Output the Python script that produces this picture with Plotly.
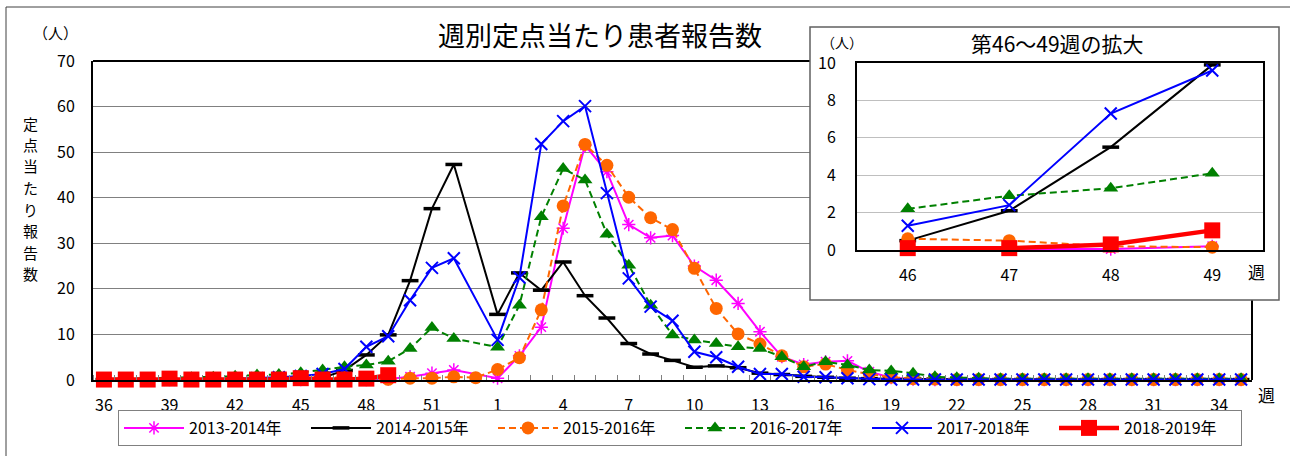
import plotly.graph_objects as go

# ---------------- data ----------------
weeks = ["36", "37", "38", "39", "40", "41", "42", "43", "44", "45",
         "46", "47", "48", "49", "50", "51", "52", "53",
         "1", "2", "3", "4", "5", "6", "7", "8", "9", "10",
         "11", "12", "13", "14", "15", "16", "17", "18", "19", "20",
         "21", "22", "23", "24", "25", "26", "27", "28", "29", "30",
         "31", "32", "33", "34", "35"]
tick_labels = ["36", "39", "42", "45", "48", "51", "1", "4", "7", "10",
               "13", "16", "19", "22", "25", "28", "31", "34"]
inset_weeks = ["46", "47", "48", "49"]
y_ticks = [0, 10, 20, 30, 40, 50, 60, 70]
inset_y_ticks = [0, 2, 4, 6, 8, 10]

s2013 = [0.1, 0.1, 0.1, 0.1, 0.1, 0.1, 0.1, 0.1, 0.1, 0.1,
         0.05, 0.05, 0.05, 0.2, 0.7, 1.5, 2.2, None,
         0.4, 5.3, 11.6, 33.3, 51.5, 45.7, 34.1, 31.2, 31.7, 25.0,
         21.9, 16.8, 10.6, 5.1, 3.4, 4.0, 4.2, 1.8, 0.5, 0.2,
         0.1, 0.1, 0.1, 0.1, 0.1, 0.1, 0.1, 0.1, 0.1, 0.1,
         0.1, 0.1, 0.1, 0.1, 0.1]
s2014 = [0.1, 0.1, 0.1, 0.1, 0.1, 0.1, 0.2, 0.2, 0.3, 0.4,
         0.5, 2.1, 5.5, 9.9, 21.8, 37.6, 47.3, None,
         14.4, 23.5, 19.7, 25.9, 18.5, 13.6, 8.0, 5.7, 4.3, 2.8,
         3.1, 2.7, 1.5, 1.2, 0.8, 0.6, 0.4, 0.3, 0.2, 0.2,
         0.2, 0.1, 0.1, 0.1, 0.1, 0.1, 0.1, 0.1, 0.1, 0.1,
         0.1, 0.1, 0.1, 0.1, 0.1]
s2015 = [0.1, 0.1, 0.1, 0.1, 0.1, 0.2, 0.2, 0.2, 0.3, 0.4,
         0.6, 0.5, 0.2, 0.15, 0.4, 0.4, 0.7, 0.5,
         2.3, 4.9, 15.4, 38.2, 51.7, 47.1, 40.1, 35.6, 33.0, 24.5,
         15.7, 10.1, 7.9, 5.3, 2.9, 3.5, 2.2, 1.3, 0.6, 0.3,
         0.2, 0.1, 0.1, 0.1, 0.1, 0.1, 0.1, 0.1, 0.1, 0.1,
         0.1, 0.1, 0.1, 0.1, 0.1]
s2016 = [0.2, 0.3, 0.3, 0.4, 0.5, 0.6, 0.8, 1.1, 1.2, 1.6,
         2.2, 2.9, 3.3, 4.1, 6.9, 11.5, 9.1, None,
         7.2, 16.4, 35.8, 46.4, 43.9, 32.0, 25.2, 16.4, 9.9, 8.8,
         8.0, 7.3, 6.9, 5.1, 2.9, 4.0, 3.3, 2.2, 2.0, 1.5,
         0.7, 0.5, 0.4, 0.3, 0.3, 0.3, 0.3, 0.3, 0.3, 0.3,
         0.3, 0.3, 0.3, 0.3, 0.3]
s2017 = [0.1, 0.1, 0.1, 0.1, 0.2, 0.2, 0.3, 0.4, 0.6, 0.9,
         1.3, 2.4, 7.3, 9.6, 17.5, 24.6, 26.7, None,
         8.8, 22.5, 51.8, 56.8, 60.1, 41.0, 22.3, 16.1, 13.0, 6.2,
         5.0, 2.9, 1.3, 1.3, 0.7, 0.6, 0.4, 0.2, 0.1, 0.1,
         0.1, 0.1, 0.1, 0.1, 0.1, 0.1, 0.1, 0.1, 0.1, 0.1,
         0.1, 0.1, 0.1, 0.1, 0.1]
s2018 = [0.1, 0.1, 0.1, 0.3, 0.1, 0.1, 0.1, 0.1, 0.1, 0.4,
         0.1, 0.1, 0.3, 1.05]

series_names = ["2013-2014年", "2014-2015年", "2015-2016年",
                "2016-2017年", "2017-2018年", "2018-2019年"]
series_values = [s2013, s2014, s2015, s2016, s2017, s2018]

y_title_chars = ["定", "点", "当", "た", "り", "報", "告", "数"]

# ---------------- styles ----------------
FONT = "Noto Sans CJK JP"
styles = [
    dict(line=dict(color="#FF00FF", width=2),
         marker=dict(symbol="asterisk-open", size=11, color="#FF00FF",
                     line=dict(width=1.5, color="#FF00FF"))),
    dict(line=dict(color="#000000", width=2),
         marker=dict(symbol="line-ew-open", size=12, color="#000000",
                     line=dict(width=3.5, color="#000000"))),
    dict(line=dict(color="#FF6600", width=2, dash="7px,4px"),
         marker=dict(symbol="circle", size=13, color="#FF6600")),
    dict(line=dict(color="#008000", width=2, dash="7px,4px"),
         marker=dict(symbol="triangle-up", size=13, color="#008000")),
    dict(line=dict(color="#0000FF", width=2),
         marker=dict(symbol="x-thin-open", size=12, color="#0000FF",
                     line=dict(width=2, color="#0000FF"))),
    dict(line=dict(color="#FF0000", width=4.5),
         marker=dict(symbol="square", size=16, color="#FF0000")),
]

# pixel layout helpers
L, R, T, B = 93, 11, 27, 76
PW, PH = 1290 - L - R, 456 - T - B


def px(x):
    return (x - L) / PW


def py(y):
    return (456 - B - y) / PH


x_idx = list(range(len(weeks)))
inset_pos = [weeks.index(w) for w in inset_weeks]

fig = go.Figure()
for name, vals, st in zip(series_names, series_values, styles):
    fig.add_trace(go.Scatter(
        x=x_idx[:len(vals)], y=vals, name=name, mode="lines+markers",
        line=st["line"], marker=st["marker"], connectgaps=True,
        cliponaxis=False, xaxis="x", yaxis="y"))
for name, vals, st in zip(series_names, series_values, styles):
    fig.add_trace(go.Scatter(
        x=inset_weeks, y=[vals[i] for i in inset_pos], name=name,
        mode="lines+markers", line=st["line"], marker=st["marker"],
        showlegend=False, cliponaxis=False, xaxis="x2", yaxis="y2"))

main_x_dom = [0, px(1252)]
main_y_dom = [0, py(61)]

fig.update_layout(
    width=1290, height=456,
    margin=dict(l=L, r=R, t=T, b=B, pad=0, autoexpand=False),
    paper_bgcolor="white", plot_bgcolor="white",
    font=dict(family=FONT, size=16, color="#000000"),
    showlegend=True,
    legend=dict(orientation="h", x=px(680), xanchor="center",
                y=py(410), yanchor="top", bordercolor="#808080",
                borderwidth=1, bgcolor="white", itemwidth=60,
                font=dict(family=FONT, size=16), traceorder="normal",
                entrywidth=112, entrywidthmode="pixels"),
    xaxis=dict(domain=main_x_dom, range=[-0.5, len(weeks) - 0.5],
               tickmode="array",
               tickvals=[weeks.index(t) for t in tick_labels],
               ticktext=tick_labels, ticks="", showgrid=False,
               zeroline=False, showline=True, linecolor="#000000",
               linewidth=2, ticklabelstandoff=10,
               tickfont=dict(size=16),
               minor=dict(tickmode="linear", tick0=-0.5, dtick=1,
                          ticks="inside", ticklen=5, tickwidth=1,
                          tickcolor="#808080", showgrid=False)),
    yaxis=dict(domain=main_y_dom, range=[0, 70], tickmode="array",
               tickvals=y_ticks, ticks="", showgrid=True,
               gridcolor="#808080", gridwidth=1, zeroline=False,
               showline=True, linecolor="#000000", linewidth=2,
               ticklabelstandoff=13, tickfont=dict(size=16)),
    xaxis2=dict(domain=[px(857), px(1263)], anchor="y2",
                type="category", categoryorder="array",
                categoryarray=inset_weeks, range=[-0.5, 3.5],
                ticks="", showgrid=False, zeroline=False, showline=True,
                mirror=True, linecolor="#000000", linewidth=2,
                ticklabelstandoff=10, tickfont=dict(size=16)),
    yaxis2=dict(domain=[py(250), py(63)], anchor="x2", range=[0, 10],
                tickmode="array", tickvals=inset_y_ticks, ticks="",
                showgrid=True, gridcolor="#BFBFBF", gridwidth=1,
                zeroline=False, showline=True, mirror=True,
                linecolor="#000000", linewidth=2, ticklabelstandoff=16,
                tickfont=dict(size=16)),
)

shapes = [
    # white cover for main gridlines under the inset box
    dict(type="rect", xref="x", yref="y",
         x0=(810 - 93) / 21.87 - 0.5, x1=60, y0=(380 - 300) / 4.557, y1=80,
         fillcolor="white", line=dict(width=0), layer="between"),
    # main plot top border (left of inset) and right border (below inset)
    dict(type="line", xref="paper", yref="paper", x0=0, x1=px(810),
         y0=main_y_dom[1], y1=main_y_dom[1],
         line=dict(color="#000000", width=2), layer="above"),
    dict(type="line", xref="paper", yref="paper", x0=main_x_dom[1],
         x1=main_x_dom[1], y0=0, y1=py(300),
         line=dict(color="#000000", width=2), layer="above"),
    # inset box
    dict(type="rect", xref="paper", yref="paper", x0=px(810), x1=px(1279),
         y0=py(300), y1=py(27), line=dict(color="#606060", width=1.5),
         fillcolor="rgba(0,0,0,0)", layer="above"),
    # outer chart frame
    dict(type="rect", xref="paper", yref="paper", x0=px(6), x1=px(1340),
         y0=py(500), y1=py(7), line=dict(color="#404040", width=1),
         fillcolor="rgba(0,0,0,0)", layer="above"),
]
fig.update_layout(shapes=shapes)

ann = [
    dict(text="週別定点当たり患者報告数", x=px(600), y=py(34),
         font=dict(size=27)),
    dict(text="（人）", x=px(55), y=py(33), font=dict(size=15)),
    dict(text="週", x=px(1266), y=py(394), font=dict(size=17)),
    dict(text="（人）", x=px(842), y=py(42), font=dict(size=14)),
    dict(text="第46～49週の拡大", x=px(1057), y=py(43),
         font=dict(size=21)),
    dict(text="週", x=px(1256), y=py(271), font=dict(size=17)),
]
for k, ch in enumerate(y_title_chars):
    ann.append(dict(text=ch, x=px(30), y=py(123 + 21.5 * k),
                    font=dict(size=15), borderpad=0))
for a in ann:
    a.update(xref="paper", yref="paper", showarrow=False,
             xanchor="center", yanchor="middle")
fig.update_layout(annotations=ann)

fig.write_html(
    "out.html",
    config={"displayModeBar": False},
    post_script="document.body.style.margin='0';"
                "document.body.style.overflow='hidden';")
